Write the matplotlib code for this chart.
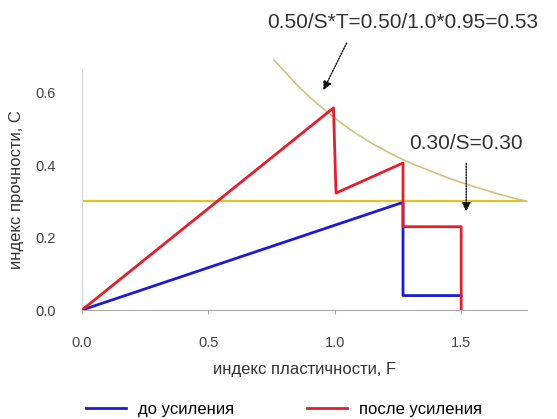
import matplotlib
matplotlib.use("Agg")
import matplotlib.pyplot as plt

plt.rcParams["font.family"] = ["Liberation Sans", "DejaVu Sans"]

# до усиления
F_before = [0.0, 1.26, 1.27, 1.27, 1.5]
C_before = [0.0, 0.295, 0.295, 0.04, 0.04]

# после усиления
F_after = [0.0, 0.995, 1.005, 1.27, 1.27, 1.5, 1.5]
C_after = [0.0, 0.558, 0.323, 0.406, 0.23, 0.23, 0.0]

# кривая предела 0.50/S*T (точки)
F_curve = [0.76, 0.80, 0.85, 0.90, 0.96, 1.02, 1.08, 1.15, 1.21, 1.27, 1.32, 1.375,
           1.44, 1.505, 1.56, 1.62, 1.69, 1.76]
C_curve = [0.69, 0.66, 0.622, 0.588, 0.553, 0.519, 0.489, 0.459, 0.436, 0.415, 0.40, 0.385,
           0.367, 0.351, 0.339, 0.326, 0.312, 0.30]

# горизонтальный предел 0.30/S
F_limit = [0.0, 1.76]
C_limit = [0.30, 0.30]

x_ticks = [0.0, 0.5, 1.0, 1.5]
y_ticks = [0.0, 0.2, 0.4, 0.6]

fig = plt.figure(figsize=(5.57, 4.19), dpi=100)
ax = fig.add_axes([0.147, 0.26, 0.799, 0.575])

ax.plot(F_limit, C_limit, color="#e2c22e", linewidth=1.6, zorder=2)
ax.plot(F_curve, C_curve, color="#cfc47c", linewidth=1.2, zorder=2, clip_on=False)
ax.plot(F_before, C_before, color="#1c1ad8", linewidth=2.0, label="до усиления", zorder=3)
ax.plot(F_after, C_after, color="#e41e2c", linewidth=2.0, label="после усиления", zorder=4)

arrow = dict(arrowstyle="-|>", linestyle=(0, (1, 1)), color="#111111",
             lw=1.0, mutation_scale=13, shrinkA=0, shrinkB=0)
ax.text(1.27, 0.795, "0.50/S*T=0.50/1.0*0.95=0.53", ha="center", va="center",
        fontsize=15, color="#333333", clip_on=False)
ax.annotate("", xy=(0.955, 0.607), xytext=(1.047, 0.737), annotation_clip=False,
            arrowprops=arrow)
ax.text(1.52, 0.46, "0.30/S=0.30", ha="center", va="center", fontsize=15,
        color="#333333", clip_on=False)
ax.annotate("", xy=(1.52, 0.272), xytext=(1.52, 0.405), annotation_clip=False,
            arrowprops=arrow)

ax.set_xlim(0, 1.76)
ax.set_ylim(0, 0.665)
ax.set_xticks(x_ticks)
ax.set_xticklabels(["0.0", "0.5", "1.0", "1.5"])
ax.set_yticks(y_ticks)
ax.set_yticklabels(["0.0", "0.2", "0.4", "0.6"])
ax.tick_params(axis="x", length=3, color="#aaaaaa", pad=16, labelsize=10.5, labelcolor="#444444")
ax.tick_params(axis="y", length=0, pad=19, labelsize=10.5, labelcolor="#444444")

for s in ["top", "right"]:
    ax.spines[s].set_visible(False)
ax.spines["left"].set_color("#d4d4d4")
ax.spines["bottom"].set_color("#a8a8a8")

ax.set_xlabel("индекс пластичности, F", fontsize=12, color="#333333", labelpad=8)
ax.set_ylabel("индекс прочности, C", fontsize=12, color="#333333", labelpad=8)

fig.legend(loc="center", bbox_to_anchor=(0.51, 0.022), ncol=2, frameon=False,
           fontsize=12, handlelength=2.4, columnspacing=4.4, handletextpad=0.7)

fig.savefig("out.png", dpi=100)
